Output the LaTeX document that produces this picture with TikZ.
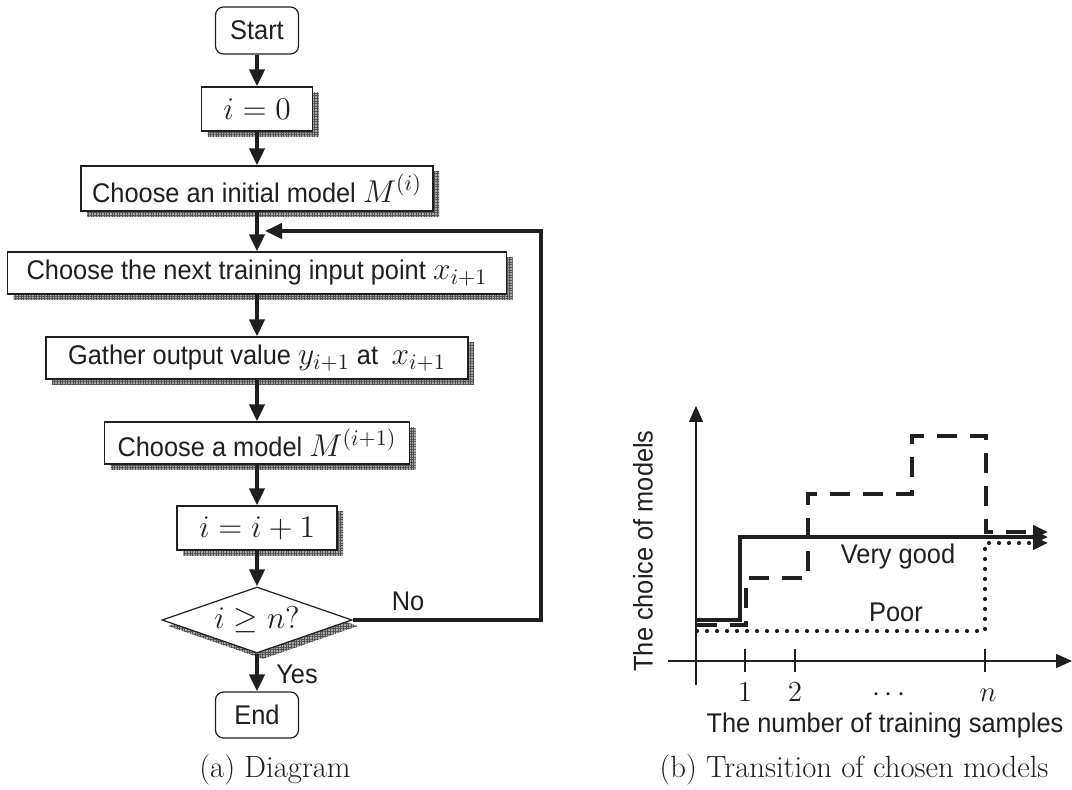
\documentclass[tikz,border=0pt]{standalone}
\usepackage{fix-cm}
\usepackage{fontspec}
\newfontfamily\arialf[FakeStretch=0.94]{Liberation Sans}
\usetikzlibrary{arrows.meta,shapes.geometric,shadows,patterns.meta}
\definecolor{ink}{gray}{0.12}
\definecolor{shadefill}{gray}{0.66}
\definecolor{hatchc}{gray}{0.32}
\newcommand{\txtf}{\arialf\fontsize{13.5}{16}\selectfont}
\newcommand{\mathbigf}{\fontsize{15.75}{18}\selectfont}
\newcommand{\capf}{\fontsize{15.35}{18}\selectfont}
\newcommand{\tickf}{\fontsize{14.5}{17}\selectfont}
\newcommand{\mm}[1]{{\mathbigf$#1$}}
\begin{document}
\begin{tikzpicture}[x=0.5pt,y=-0.5pt,
  shbox/.style={
    general shadow={shadow xshift=3pt,shadow yshift=-3pt,fill=shadefill},
    general shadow={shadow xshift=3pt,shadow yshift=-3pt,
      pattern={Hatch[angle=0,distance=1.3pt,line width=0.3pt]},pattern color=hatchc}},
  proc/.style={draw=ink,line width=0.6pt,fill=white,inner sep=0pt,
    font=\txtf,text=ink,shbox},
  term/.style={draw=ink,line width=0.6pt,fill=white,rounded corners=4pt,
    inner sep=0pt,minimum width=41.5pt,minimum height=23.5pt,font=\txtf,text=ink},
  decide/.style={draw=ink,line width=0.6pt,fill=white,shape=diamond,aspect=2.88,
    inner sep=0pt,minimum width=95pt,minimum height=33pt,font=\mathbigf,text=ink,shbox},
  flow/.style={line width=2pt,draw=ink,-{Triangle[length=8.5pt,width=7.5pt]}},
  lbl/.style={font=\txtf,text=ink,inner sep=0pt},
  axisl/.style={line width=0.75pt,draw=ink,-{Triangle[length=8pt,width=7pt]}},
  tickl/.style={line width=0.75pt,draw=ink},
  curve/.style={line width=2pt,draw=ink,line join=miter,-{Triangle[length=7.5pt,width=6.5pt]}},
  tlab/.style={font=\tickf,text=ink,anchor=base,inner sep=0pt},
  capl/.style={font=\capf,text=ink,anchor=base,inner sep=0pt}
]
\fill[white] (0,0) rectangle (1072,790);
\useasboundingbox (0,0) rectangle (1072,790);

% ---------- flowchart ----------
\node[term] (start) at (257,30.5) {Start};
\node[proc,minimum width=55.5pt,minimum height=22pt,font=\mathbigf] (i0) at (257,109) {$i=0$};
\node[proc,minimum width=176pt,minimum height=22.5pt] (init) at (257,188.5) {Choose an initial model \mm{M^{(i)}}};
\node[proc,minimum width=249.5pt,minimum height=21pt] (next) at (257,273) {Choose the next training input point \mm{x_{i+1}}};
\node[proc,minimum width=211pt,minimum height=21pt] (gath) at (257,358) {Gather output value \mm{y_{i+1}} at\enspace\mm{x_{i+1}}};
\node[proc,minimum width=152.5pt,minimum height=21pt] (model) at (257,443) {Choose a model \mm{M^{(i+1)}}};
\node[proc,minimum width=80pt,minimum height=22pt,font=\mathbigf] (inc) at (257,528) {$i=i+1$};
\node[decide] (dec) at (257,620) {$i\geq n?$};
\node[term,minimum height=23pt] (end) at (257,715) {End};

\draw[flow] (start.south) -- (i0.north);
\draw[flow] (i0.south) -- (init.north);
\draw[flow] (init.south) -- (next.north);
\draw[flow] (next.south) -- (gath.north);
\draw[flow] (gath.south) -- (model.north);
\draw[flow] (model.south) -- (inc.north);
\draw[flow] (inc.south) -- (dec.north);
\draw[flow] (dec.south) -- (end.north);

\coordinate (lc) at (541,231);
\coordinate (lp) at (265,231);
\draw[flow,line join=miter] (dec.east) -| (lc) -- (lp);

\node[lbl] (no) at (408,601) {No};
\node[lbl] (yes) at (297,674) {Yes};

\node[capl] (capa) at (275,778) {(a) Diagram};

% ---------- chart ----------
\draw[axisl] (696,685) -- (696,406);
\draw[axisl] (668,661) -- (1072,661);
\draw[tickl] (745,649) -- (745,672);
\draw[tickl] (795,649) -- (795,672);
\draw[tickl] (985,649) -- (985,672);

\node[tlab] (t1) at (745,702) {$1$};
\node[tlab] (t2) at (795,702) {$2$};
\node[tlab] (td) at (889,702) {$\cdots$};
\node[tlab] (tn) at (988,702) {$n$};

\draw[curve] (697,620) -- (740,620) -- (740,537) -- (1048,537);
\draw[curve,dash pattern=on 10pt off 6.5pt] (697,625) -- (746,625) -- (746,578) -- (808,578)
  -- (808,494) -- (912,494) -- (912,436) -- (986,436) -- (986,532) -- (1048,532);
\draw[curve,line width=2.1pt,line cap=round,dash pattern=on 0pt off 5pt]
  (697,631) -- (985,631) -- (985,543) -- (1048,543);

\node[lbl] (vg) at (898,557) {Very good};
\node[lbl] (poor) at (896,612) {Poor};
\node[lbl,rotate=90] (ylab) at (643,551) {The choice of models};
\node[lbl,anchor=base] (xlab) at (885,733) {The number of training samples};

\node[capl] (capb) at (854,778) {(b) Transition of chosen models};
\end{tikzpicture}
\end{document}
